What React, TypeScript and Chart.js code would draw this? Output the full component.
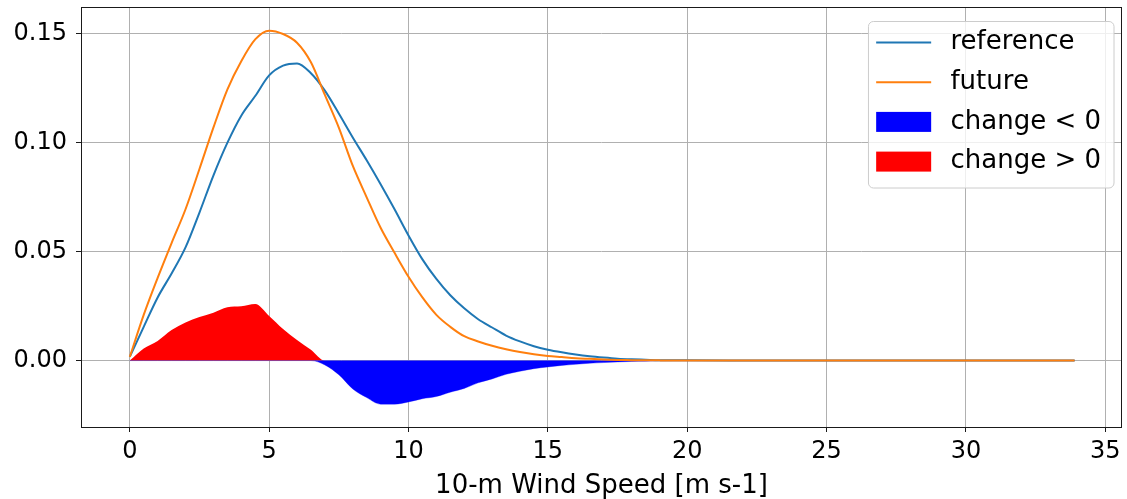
import React, { useEffect, useRef } from "react";
import { Chart, registerables } from "chart.js";

Chart.register(...registerables);

const windSpeed = [
  0, 0.5, 1, 1.5, 2, 2.5, 3, 3.5, 4, 4.5, 5, 5.5, 6, 6.5, 7, 7.5, 8, 8.5, 9, 9.5,
  10, 10.5, 11, 11.5, 12, 12.5, 13, 13.5, 14, 14.5, 15, 15.5, 16, 16.5, 17, 17.5,
  18, 18.5, 19, 20, 22, 24, 26, 28, 30, 32, 33.9,
];

const referencePdf = [
  0.0017, 0.0155, 0.029, 0.04, 0.052, 0.068, 0.085, 0.1, 0.1125, 0.1215, 0.131,
  0.1355, 0.1365, 0.132, 0.124, 0.1135, 0.1025, 0.092, 0.081, 0.0695, 0.0575,
  0.0465, 0.0375, 0.03, 0.024, 0.019, 0.0152, 0.0115, 0.0088, 0.0066, 0.005,
  0.0038, 0.0028, 0.002, 0.0014, 0.0009, 0.0006, 0.0004, 0.0002, 0.0001,
  0.00005, 0.00003, 0.00002, 0.00001, 0.00001, 0.00001, 0.00001,
];

const futurePdf = [
  0.0017, 0.021, 0.038, 0.054, 0.0695, 0.088, 0.107, 0.1245, 0.1375, 0.1475,
  0.1515, 0.15, 0.146, 0.137, 0.122, 0.107, 0.0895, 0.075, 0.061, 0.0495, 0.0385,
  0.029, 0.021, 0.0155, 0.0112, 0.0088, 0.0068, 0.0052, 0.0039, 0.0029, 0.0021,
  0.0016, 0.0011, 0.0008, 0.0005, 0.0003, 0.0002, 0.0001, 0.0001, 0.00005,
  0.00003, 0.00002, 0.00001, 0.00001, 0.00001, 0.00001, 0.00001,
];

const xTickValues = [0, 5, 10, 15, 20, 25, 30, 35];
const yTickValues = [0, 0.05, 0.1, 0.15];

const seriesLabels = ["reference", "future", "change < 0", "change > 0"];
const xAxisTitle = "10-m Wind Speed [m s-1]";

const FONT = '"DejaVu Sans", sans-serif';

const spinesPlugin = {
  id: "spines",
  afterDatasetsDraw(chart: any) {
    const { ctx, chartArea } = chart;
    ctx.save();
    ctx.strokeStyle = "#1a1a1a";
    ctx.lineWidth = 1;
    ctx.strokeRect(
      Math.round(chartArea.left) + 0.5,
      Math.round(chartArea.top) + 0.5,
      Math.round(chartArea.right - chartArea.left) - 1,
      Math.round(chartArea.bottom - chartArea.top)
    );
    ctx.restore();
  },
};

const insideLegendPlugin = {
  id: "insideLegend",
  afterDraw(chart: any) {
    const { ctx, chartArea } = chart;
    const fontSize = 26;
    ctx.save();
    ctx.font = `${fontSize}px ${FONT}`;
    const items = chart.data.datasets.map((ds: any) => ({
      label: ds.label,
      kind: ds.legendKind,
      color: ds.legendKind === "line" ? ds.borderColor : ds.backgroundColor,
    }));
    const textW = Math.max(...items.map((it: any) => ctx.measureText(it.label).width));
    const boxRight = chartArea.right - 8;
    const boxTop = chartArea.top + 14.5;
    const textOffset = 82;
    const boxW = textOffset + textW + 13;
    const boxH = 166.5;
    const boxLeft = boxRight - boxW;
    const r = 5;
    ctx.beginPath();
    ctx.moveTo(boxLeft + r, boxTop);
    ctx.arcTo(boxRight, boxTop, boxRight, boxTop + boxH, r);
    ctx.arcTo(boxRight, boxTop + boxH, boxLeft, boxTop + boxH, r);
    ctx.arcTo(boxLeft, boxTop + boxH, boxLeft, boxTop, r);
    ctx.arcTo(boxLeft, boxTop, boxRight, boxTop, r);
    ctx.closePath();
    ctx.fillStyle = "rgba(255,255,255,0.8)";
    ctx.fill();
    ctx.strokeStyle = "#cccccc";
    ctx.lineWidth = 1;
    ctx.stroke();

    const rowH = 39.7;
    items.forEach((it: any, i: number) => {
      const cy = boxTop + 21 + i * rowH;
      const hx = boxLeft + 7.7;
      if (it.kind === "line") {
        ctx.strokeStyle = it.color;
        ctx.lineWidth = 2;
        ctx.beginPath();
        ctx.moveTo(hx, cy);
        ctx.lineTo(hx + 55, cy);
        ctx.stroke();
      } else {
        ctx.fillStyle = it.color;
        ctx.fillRect(hx, cy - 10, 55, 20);
      }
      ctx.fillStyle = "#000";
      ctx.textAlign = "left";
      ctx.textBaseline = "middle";
      ctx.fillText(it.label, boxLeft + textOffset, cy);
    });
    ctx.restore();
  },
};

export default function App() {
  const canvasRef = useRef<HTMLCanvasElement | null>(null);

  useEffect(() => {
    if (!canvasRef.current) return;
    const pts = (arr: number[]) => windSpeed.map((x, i) => ({ x, y: arr[i] }));
    const change = windSpeed.map((_, i) => futurePdf[i] - referencePdf[i]);
    const changeNeg = change.map((d) => Math.min(d, 0));
    const changePos = change.map((d) => Math.max(d, 0));

    const common = {
      pointRadius: 0,
      cubicInterpolationMode: "monotone",
    };

    const chart = new Chart(canvasRef.current, {
      type: "line",
      data: {
        datasets: [
          {
            ...common,
            label: seriesLabels[0],
            data: pts(referencePdf),
            borderColor: "#1f77b4",
            backgroundColor: "#1f77b4",
            borderWidth: 2,
            fill: false,
            order: 1,
            legendKind: "line",
          } as any,
          {
            ...common,
            label: seriesLabels[1],
            data: pts(futurePdf),
            borderColor: "#ff7f0e",
            backgroundColor: "#ff7f0e",
            borderWidth: 2,
            fill: false,
            order: 0,
            legendKind: "line",
          } as any,
          {
            ...common,
            label: seriesLabels[2],
            data: pts(changeNeg),
            borderColor: "rgba(0,0,255,0.35)",
            backgroundColor: "#0000ff",
            borderWidth: 1,
            fill: "origin",
            order: 2,
            legendKind: "patch",
          } as any,
          {
            ...common,
            label: seriesLabels[3],
            data: pts(changePos),
            borderColor: "rgba(255,0,0,0)",
            backgroundColor: "#ff0000",
            borderWidth: 0,
            fill: "origin",
            order: 3,
            legendKind: "patch",
          } as any,
        ],
      },
      options: {
        animation: false,
        responsive: false,
        layout: { padding: { top: 7, right: 5, left: 0, bottom: 0 } },
        plugins: {
          legend: { display: false },
          tooltip: { enabled: false },
          title: { display: false },
        },
        scales: {
          x: {
            type: "linear",
            min: -1.75,
            max: 35.6,
            afterBuildTicks: (scale: any) => {
              scale.ticks = xTickValues.map((v) => ({ value: v }));
            },
            afterFit: (scale: any) => {
              scale.height = 72;
              scale.paddingLeft = 0;
              scale.paddingRight = 0;
            },
            grid: {
              color: "#b0b0b0",
              lineWidth: 1,
              drawTicks: true,
              tickLength: 5,
              tickColor: "#1a1a1a",
              tickWidth: 1,
            },
            border: { display: false },
            ticks: {
              color: "#000",
              font: { family: FONT, size: 24 },
              padding: 5,
              maxRotation: 0,
              autoSkip: false,
              callback: (v: any) => String(v),
            },
            title: {
              display: true,
              text: xAxisTitle,
              color: "#000",
              font: { family: FONT, size: 26 },
              padding: { top: 0, bottom: -3 },
            },
          },
          y: {
            type: "linear",
            min: -0.0305,
            max: 0.1624,
            afterBuildTicks: (scale: any) => {
              scale.ticks = yTickValues.map((v) => ({ value: v }));
            },
            afterFit: (scale: any) => {
              scale.width = 81;
              scale.paddingTop = 0;
              scale.paddingBottom = 0;
            },
            grid: {
              color: "#b0b0b0",
              lineWidth: 1,
              drawTicks: true,
              tickLength: 5,
              tickColor: "#1a1a1a",
              tickWidth: 1,
            },
            border: { display: false },
            ticks: {
              color: "#000",
              font: { family: FONT, size: 24 },
              padding: 9,
              autoSkip: false,
              callback: (v: any) => Number(v).toFixed(2),
            },
          },
        },
      },
      plugins: [spinesPlugin, insideLegendPlugin],
    });
    return () => chart.destroy();
  }, []);

  return (
    <div style={{ position: "absolute", left: 0, top: 0, width: 1127, height: 499, background: "#fff" }}>
      <canvas ref={canvasRef} width={1127} height={499} />
    </div>
  );
}
